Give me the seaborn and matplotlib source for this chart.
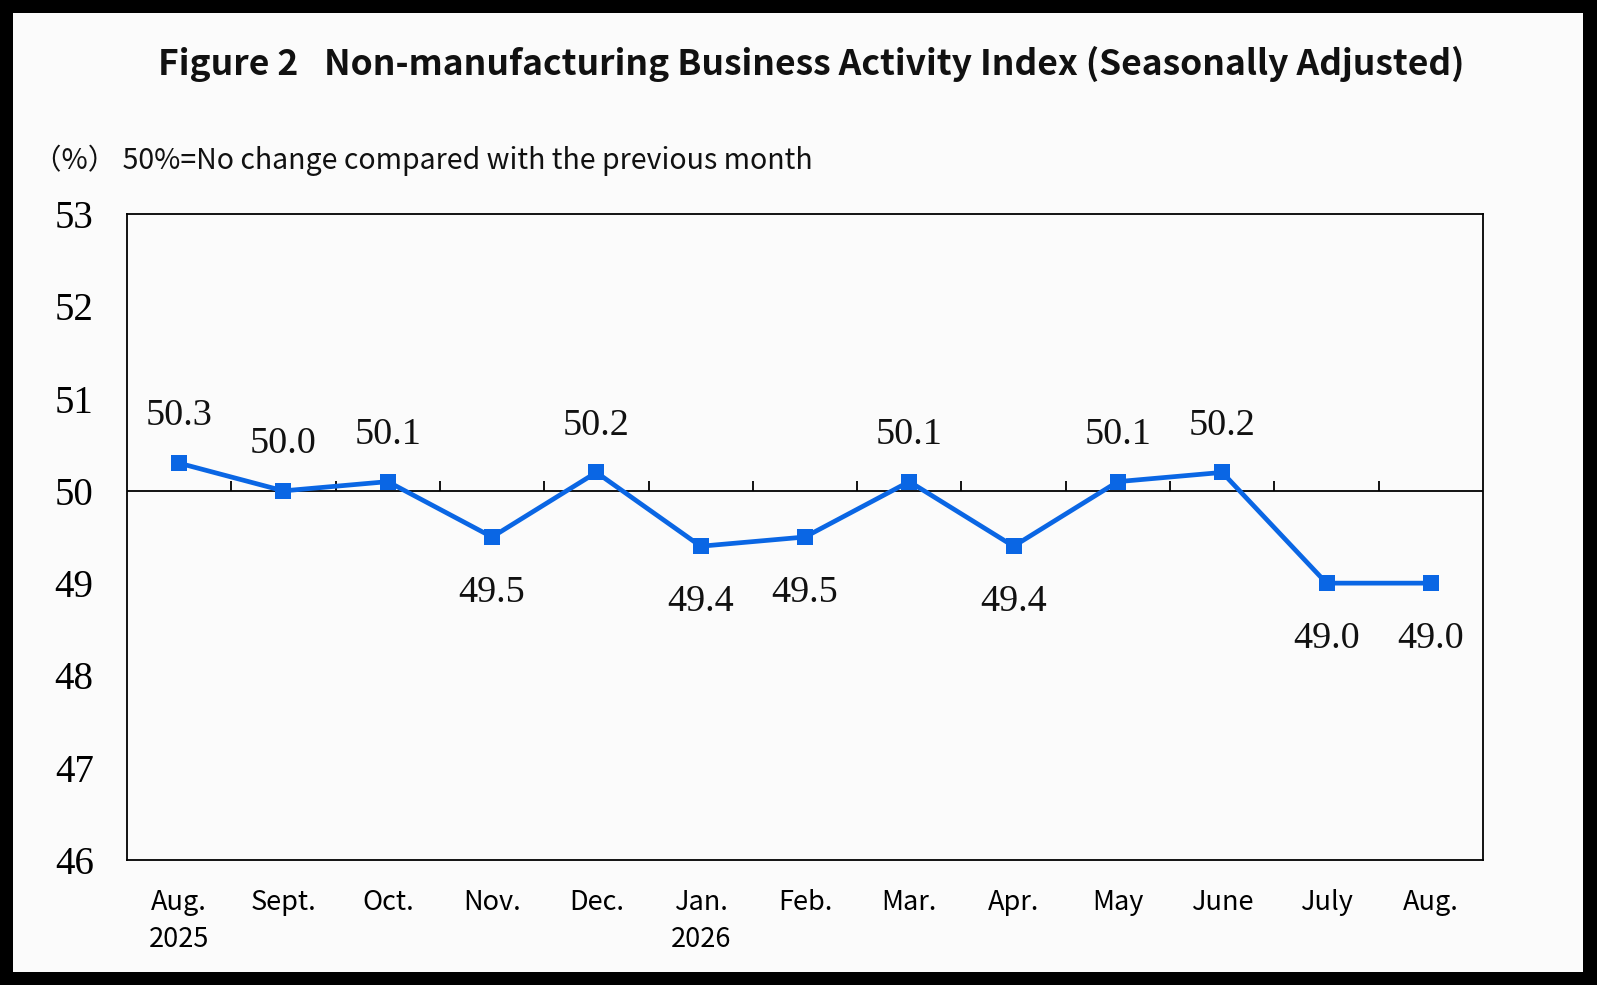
import numpy as np
import pandas as pd
import matplotlib
matplotlib.use("Agg")
import matplotlib.pyplot as plt
import seaborn as sns
from matplotlib.patches import Rectangle

# data
months = ["Aug.\n2025", "Sept.", "Oct.", "Nov.", "Dec.", "Jan.\n2026", "Feb.",
          "Mar.", "Apr.", "May", "June", "July", "Aug."]
index_values = [50.3, 50.0, 50.1, 49.5, 50.2, 49.4, 49.5, 50.1, 49.4, 50.1, 50.2, 49.0, 49.0]
y_ticks = [46, 47, 48, 49, 50, 51, 52, 53]

title_text = "Figure 2\u2002 Non-manufacturing Business Activity Index (Seasonally Adjusted)"
note_text = "（%） 50%=No change compared with the previous month"

df = pd.DataFrame({"pos": np.arange(len(months)), "value": index_values})

sns.set_style("white")
sans = ["Noto Sans CJK JP", "DejaVu Sans"]
serif = ["Liberation Serif", "DejaVu Serif"]
plt.rcParams["font.family"] = sans

blue = "#0a66e4"

fig = plt.figure(figsize=(15.97, 9.85), dpi=100)
fig.patch.set_facecolor("black")
fig.patches.append(Rectangle((13 / 1597, 13 / 985), 1 - 27 / 1597, 1 - 26 / 985,
                             transform=fig.transFigure, facecolor="#fbfbfb",
                             edgecolor="none", zorder=-5))

ax = fig.add_axes([127 / 1597, 1 - 860 / 985, (1483 - 127) / 1597, (860 - 214) / 985])
ax.set_zorder(2)
ax.set_facecolor("#fbfbfb")

# reference line at 50 with small ticks between months
ax.axhline(50, color="black", lw=1.3, zorder=1)
mids = df["pos"].values[:-1] + 0.5
ax.vlines(mids, 50, 50.11, color="black", lw=1.3, zorder=1)

sns.lineplot(data=df, x="pos", y="value", ax=ax, color=blue, lw=3.4,
             marker="s", markersize=12, markeredgewidth=0, zorder=3)

for x, v in zip(df["pos"], df["value"]):
    dy = 0.51 if v >= 50 else -0.6
    ax.text(x, v + dy, f"{v:.1f}", ha="center", va="center", fontsize=27.5,
            family=serif, color="#111111")

ax.set_xlim(-0.5, len(months) - 0.5)
ax.set_ylim(y_ticks[0], y_ticks[-1])
ax.set_yticks(y_ticks)
ax.set_yticklabels([str(t) for t in y_ticks], family=serif, fontsize=28)
ax.set_xticks(df["pos"])
ax.set_xticklabels(months, fontsize=19.5, linespacing=1.45)
ax.tick_params(axis="y", direction="in", length=7, width=1.2, pad=24, colors="black")
ax.tick_params(axis="x", length=0, pad=21, colors="black")
ax.set_xlabel("")
ax.set_ylabel("")
for s in ax.spines.values():
    s.set_color("black")
    s.set_linewidth(1.3)
    s.set_visible(True)

fig.text(0.508, 1 - 64 / 985, title_text, ha="center", va="center",
         fontsize=25.5, fontweight="bold", family=sans, color="#111111")
fig.text(33 / 1597, 1 - 160 / 985, note_text, ha="left", va="center",
         fontsize=20.5, family=sans, color="#111111")

fig.savefig("out.png", dpi=100, facecolor=fig.get_facecolor())
